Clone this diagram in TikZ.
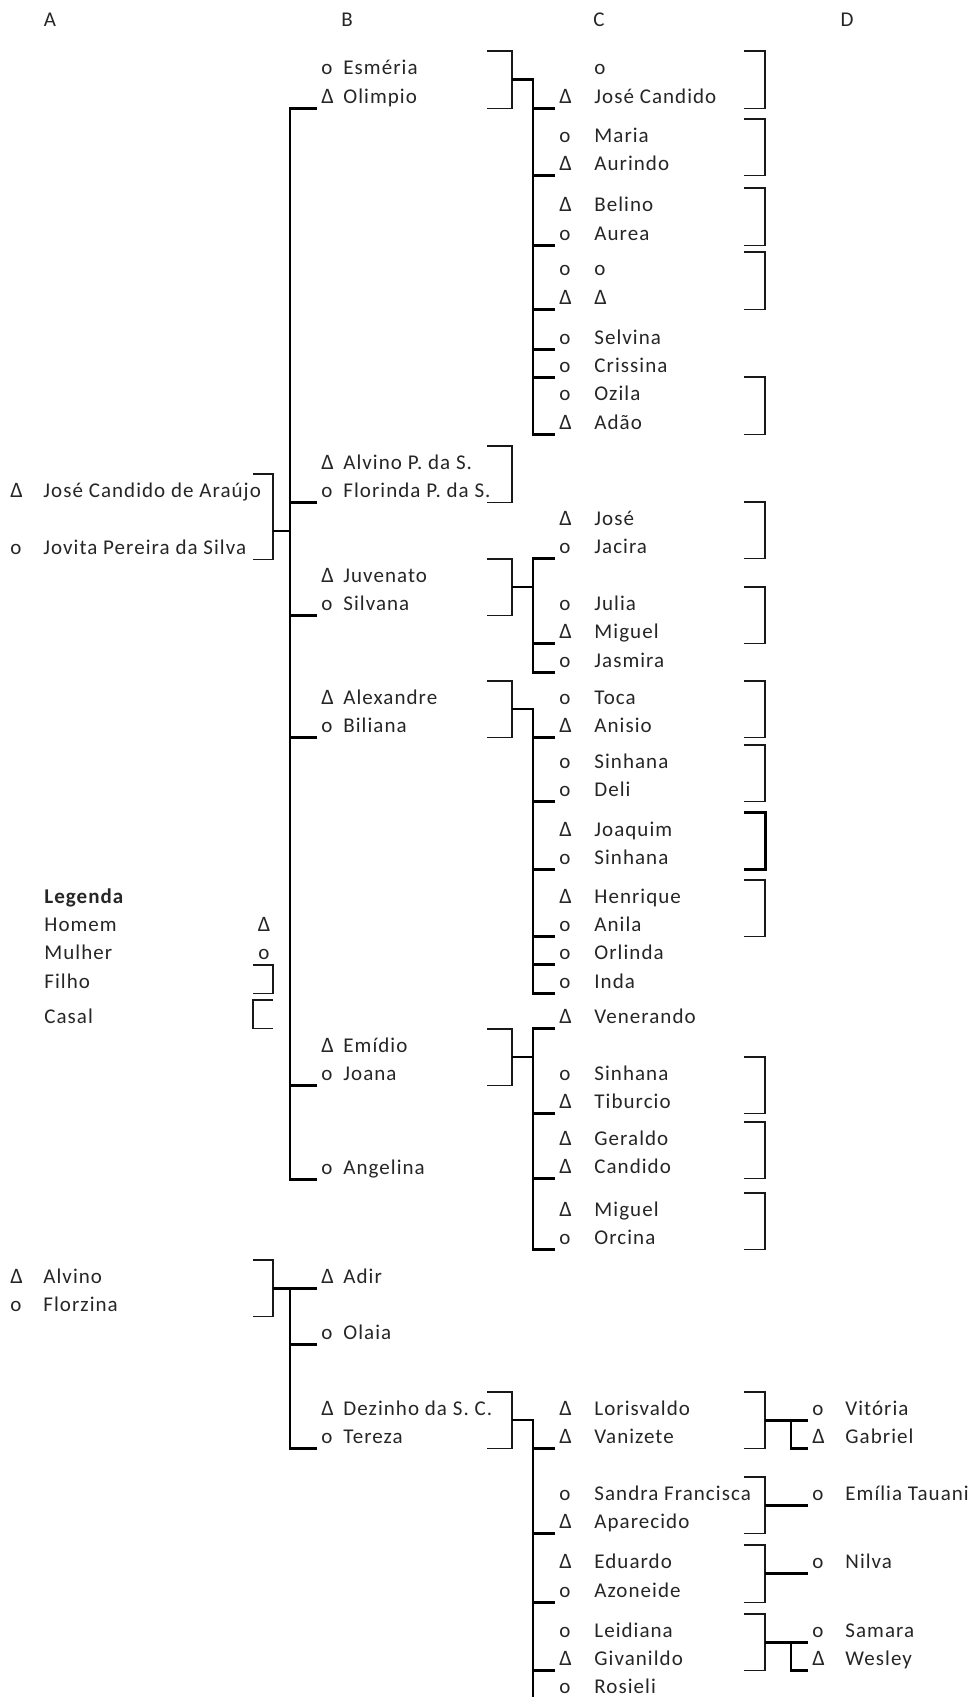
\documentclass[tikz,border=0pt]{standalone}
\usepackage{fontspec}
\setmainfont{Carlito}[LetterSpace=5.0]
\usepackage{tikz}
\usetikzlibrary{calc}
\newlength{\symw}
\newcommand{\Dlt}{\scalebox{1.05}{Δ}}
\newcommand{\Hom}{\makebox[\symw][l]{\Dlt}}
\newcommand{\Mul}{\makebox[\symw][l]{o}}
\newcommand{\Sem}{\makebox[\symw][l]{}}
\tikzset{
  pessoa/.style={anchor=base west, inner xsep=2pt, inner ysep=0pt,
    text height=11.5pt, text depth=2.5pt, text=black!85,
    font=\fontsize{10.5}{12}\selectfont},
  pesA/.style={pessoa, execute at begin node={\setlength{\symw}{16.5pt}}},
  pesB/.style={pessoa, execute at begin node={\setlength{\symw}{11pt}}},
  pesC/.style={pessoa, execute at begin node={\setlength{\symw}{17.5pt}}},
  pesD/.style={pessoa, execute at begin node={\setlength{\symw}{16.5pt}}},
  legbox/.style={pessoa, inner xsep=0pt},
  colhead/.style={anchor=base, inner sep=0pt, text=black!85,
    font=\fontsize{10.5}{12}\selectfont},
  linha/.style={line width=1.1pt, black},
  casal/.style={line width=0.9pt, black!90},
  casalgrosso/.style={line width=1.5pt, black},
}

\begin{document}
\begin{tikzpicture}[x=0.5pt, y=-0.5pt]
  \fill[white] (0,0) rectangle (974,1697);
  \useasboundingbox (0,0) rectangle (974,1697);

  % colunas das linhas
  \coordinate (xA1) at (253,0);
  \coordinate (xA2) at (273,0);
  \coordinate (xB0) at (290,0);
  \coordinate (xB1) at (487,0);
  \coordinate (xB2) at (512,0);
  \coordinate (xC0) at (533,0);
  \coordinate (xC1) at (744,0);
  \coordinate (xC2) at (765,0);
  \coordinate (xD0) at (791,0);

  % Cabecalho
  \node[colhead] (hA) at (50,26) {A};
  \node[colhead] (hB) at (347,26) {B};
  \node[colhead] (hC) at (599,26) {C};
  \node[colhead] (hD) at (847,26) {D};

  % Geracao A
  \node[pesA] (jca) at (6,497) {\Hom José Candido de Araújo};
  \node[pesA] (jovita) at (6,554) {\Mul Jovita Pereira da Silva};
  \node[pesA] (alvino) at (6,1283) {\Hom Alvino};
  \node[pesA] (florzina) at (6,1311) {\Mul Florzina};

  % Legenda
  \node[legbox, font={\fontsize{10.5}{12}\selectfont\bfseries}] (legenda) at (44,903) {Legenda};
  \node[legbox] (homem) at (44,931) {Homem};
  \node[legbox] (mulher) at (44,959) {Mulher};
  \node[legbox] (filho) at (44,988) {Filho};
  \node[legbox] (casalleg) at (44,1023) {Casal};
  \node[colhead] (symhom) at (264,931) {\Dlt};
  \node[colhead] (symmul) at (264,959) {o};

  % Geracao B
  \node[pesB] (esmeria) at (317,74) {\Mul Esméria};
  \node[pesB] (olimpio) at (317,103) {\Hom Olimpio};
  \node[pesB] (alvinops) at (317,469) {\Hom Alvino P. da S.};
  \node[pesB] (florinda) at (317,497) {\Mul Florinda P. da S.};
  \node[pesB] (juvenato) at (317,582) {\Hom Juvenato};
  \node[pesB] (silvana) at (317,610) {\Mul Silvana};
  \node[pesB] (alexandre) at (317,704) {\Hom Alexandre};
  \node[pesB] (biliana) at (317,732) {\Mul Biliana};
  \node[pesB] (emidio) at (317,1052) {\Hom Emídio};
  \node[pesB] (joana) at (317,1080) {\Mul Joana};
  \node[pesB] (angelina) at (317,1174) {\Mul Angelina};
  \node[pesB] (adir) at (317,1283) {\Hom Adir};
  \node[pesB] (olaia) at (317,1339) {\Mul Olaia};
  \node[pesB] (dezinho) at (317,1415) {\Hom Dezinho da S. C.};
  \node[pesB] (tereza) at (317,1443) {\Mul Tereza};

  % Geracao C: Olimpio
  \node[pesC] (c1a) at (555,74) {\Sem o};
  \node[pesC] (josecandido) at (555,103) {\Hom José Candido};
  \node[pesC] (maria) at (555,142) {\Mul Maria};
  \node[pesC] (aurindo) at (555,170) {\Hom Aurindo};
  \node[pesC] (belino) at (555,211) {\Hom Belino};
  \node[pesC] (aurea) at (555,240) {\Mul Aurea};
  \node[pesC] (sem1) at (555,275) {\Mul o};
  \node[pesC] (sem2) at (555,304) {\Hom\Dlt};
  \node[pesC] (selvina) at (555,344) {\Mul Selvina};
  \node[pesC] (crissina) at (555,372) {\Mul Crissina};
  \node[pesC] (ozila) at (555,400) {\Mul Ozila};
  \node[pesC] (adao) at (555,429) {\Hom Adão};
  % Geracao C: Juvenato
  \node[pesC] (jose) at (555,525) {\Hom José};
  \node[pesC] (jacira) at (555,553) {\Mul Jacira};
  \node[pesC] (julia) at (555,610) {\Mul Julia};
  \node[pesC] (miguel) at (555,638) {\Hom Miguel};
  \node[pesC] (jasmira) at (555,667) {\Mul Jasmira};
  % Geracao C: Alexandre
  \node[pesC] (toca) at (555,704) {\Mul Toca};
  \node[pesC] (anisio) at (555,732) {\Hom Anisio};
  \node[pesC] (sinhana) at (555,768) {\Mul Sinhana};
  \node[pesC] (deli) at (555,796) {\Mul Deli};
  \node[pesC] (joaquim) at (555,836) {\Hom Joaquim};
  \node[pesC] (sinhanab) at (555,864) {\Mul Sinhana};
  \node[pesC] (henrique) at (555,903) {\Hom Henrique};
  \node[pesC] (anila) at (555,931) {\Mul Anila};
  \node[pesC] (orlinda) at (555,959) {\Mul Orlinda};
  \node[pesC] (inda) at (555,988) {\Mul Inda};
  % Geracao C: Emidio
  \node[pesC] (venerando) at (555,1023) {\Hom Venerando};
  \node[pesC] (sinhanac) at (555,1080) {\Mul Sinhana};
  \node[pesC] (tiburcio) at (555,1108) {\Hom Tiburcio};
  \node[pesC] (geraldo) at (555,1145) {\Hom Geraldo};
  \node[pesC] (candido) at (555,1173) {\Hom Candido};
  \node[pesC] (miguelb) at (555,1216) {\Hom Miguel};
  \node[pesC] (orcina) at (555,1244) {\Mul Orcina};
  % Geracao C: Dezinho
  \node[pesC] (lorisvaldo) at (555,1415) {\Hom Lorisvaldo};
  \node[pesC] (vanizete) at (555,1443) {\Hom Vanizete};
  \node[pesC] (sandra) at (555,1500) {\Mul Sandra Francisca};
  \node[pesC] (aparecido) at (555,1528) {\Hom Aparecido};
  \node[pesC] (eduardo) at (555,1568) {\Hom Eduardo};
  \node[pesC] (azoneide) at (555,1597) {\Mul Azoneide};
  \node[pesC] (leidiana) at (555,1637) {\Mul Leidiana};
  \node[pesC] (givanildo) at (555,1665) {\Hom Givanildo};
  \node[pesC] (rosieli) at (555,1693) {\Mul Rosieli};

  % Geracao D
  \node[pesD] (vitoria) at (808,1415) {\Mul Vitória};
  \node[pesD] (gabriel) at (808,1443) {\Hom Gabriel};
  \node[pesD] (emilia) at (808,1500) {\Mul Emília Tauani};
  \node[pesD] (nilva) at (808,1568) {\Mul Nilva};
  \node[pesD] (samara) at (808,1637) {\Mul Samara};
  \node[pesD] (wesley) at (808,1665) {\Hom Wesley};

  % Legenda: simbolos
  \draw[casal] (filho.north -| xA1) -| (filho.south -| xA2) -- (filho.south -| xA1);
  \draw[casal] (casalleg.north -| xA2) -| (casalleg.south -| xA1) -- (casalleg.south -| xA2);

  % Jose Candido + Jovita
  \draw[casal] (jca.north -| xA1) -| (jovita.south -| xA2) -- (jovita.south -| xA1);
  \coordinate (mA) at ($(jca.north)!0.67!(jovita.south)$);
  \draw[linha] (mA -| xA2) -- (mA -| xB0);
  \draw[linha] (olimpio.south west) -| (angelina.south -| xB0) -- (angelina.south west);
  \draw[linha] (florinda.south west) -- (florinda.south -| xB0);
  \draw[linha] (silvana.south west) -- (silvana.south -| xB0);
  \draw[linha] (biliana.south west) -- (biliana.south -| xB0);
  \draw[linha] (joana.south west) -- (joana.south -| xB0);

  % Olimpio + Esmeria
  \draw[casal] (esmeria.north -| xB1) -| (olimpio.south -| xB2) -- (olimpio.south -| xB1);
  \coordinate (m1) at ($(esmeria.north)!0.5!(olimpio.south)$);
  \draw[linha] (m1 -| xB2) -| (adao.south -| xC0) -- (adao.south west);
  \draw[linha] (josecandido.south west) -- (josecandido.south -| xC0);
  \draw[linha] (aurindo.south west) -- (aurindo.south -| xC0);
  \draw[linha] (aurea.south west) -- (aurea.south -| xC0);
  \draw[linha] (sem2.south west) -- (sem2.south -| xC0);
  \draw[linha] (selvina.south west) -- (selvina.south -| xC0);
  \draw[linha] (crissina.south west) -- (crissina.south -| xC0);
  \draw[casal] (c1a.north -| xC1) -| (josecandido.south -| xC2) -- (josecandido.south -| xC1);
  \draw[casal] (maria.north -| xC1) -| (aurindo.south -| xC2) -- (aurindo.south -| xC1);
  \draw[casal] (belino.north -| xC1) -| (aurea.south -| xC2) -- (aurea.south -| xC1);
  \draw[casal] (sem1.north -| xC1) -| (sem2.south -| xC2) -- (sem2.south -| xC1);
  \draw[casal] (ozila.north -| xC1) -| (adao.south -| xC2) -- (adao.south -| xC1);

  % Alvino P. + Florinda
  \draw[casal] (alvinops.north -| xB1) -| (florinda.south -| xB2) -- (florinda.south -| xB1);

  % Juvenato + Silvana
  \draw[casal] (juvenato.north -| xB1) -| (silvana.south -| xB2) -- (silvana.south -| xB1);
  \coordinate (m3) at ($(juvenato.north)!0.5!(silvana.south)$);
  \draw[linha] (m3 -| xB2) -- (m3 -| xC0);
  \draw[linha] (jacira.south west) -| (jasmira.south -| xC0) -- (jasmira.south west);
  \draw[linha] (miguel.south west) -- (miguel.south -| xC0);
  \draw[casal] (jose.north -| xC1) -| (jacira.south -| xC2) -- (jacira.south -| xC1);
  \draw[casal] (julia.north -| xC1) -| (miguel.south -| xC2) -- (miguel.south -| xC1);

  % Alexandre + Biliana
  \draw[casal] (alexandre.north -| xB1) -| (biliana.south -| xB2) -- (biliana.south -| xB1);
  \coordinate (m4) at ($(alexandre.north)!0.5!(biliana.south)$);
  \draw[linha] (m4 -| xB2) -| (inda.south -| xC0) -- (inda.south west);
  \draw[linha] (anisio.south west) -- (anisio.south -| xC0);
  \draw[linha] (deli.south west) -- (deli.south -| xC0);
  \draw[casalgrosso] (sinhanab.south west) -- (sinhanab.south -| xC0);
  \draw[linha] (anila.south west) -- (anila.south -| xC0);
  \draw[linha] (orlinda.south west) -- (orlinda.south -| xC0);
  \draw[casal] (toca.north -| xC1) -| (anisio.south -| xC2) -- (anisio.south -| xC1);
  \draw[casal] (sinhana.north -| xC1) -| (deli.south -| xC2) -- (deli.south -| xC1);
  \draw[casalgrosso] (joaquim.north -| xC1) -| (sinhanab.south -| xC2) -- (sinhanab.south -| xC1);
  \draw[casal] (henrique.north -| xC1) -| (anila.south -| xC2) -- (anila.south -| xC1);

  % Emidio + Joana
  \draw[casal] (emidio.north -| xB1) -| (joana.south -| xB2) -- (joana.south -| xB1);
  \coordinate (m5) at ($(emidio.north)!0.5!(joana.south)$);
  \draw[linha] (m5 -| xB2) -- (m5 -| xC0);
  \draw[linha] (venerando.south west) -| (orcina.south -| xC0) -- (orcina.south west);
  \draw[linha] (tiburcio.south west) -- (tiburcio.south -| xC0);
  \draw[linha] (candido.south west) -- (candido.south -| xC0);
  \draw[casal] (sinhanac.north -| xC1) -| (tiburcio.south -| xC2) -- (tiburcio.south -| xC1);
  \draw[casal] (geraldo.north -| xC1) -| (candido.south -| xC2) -- (candido.south -| xC1);
  \draw[casal] (miguelb.north -| xC1) -| (orcina.south -| xC2) -- (orcina.south -| xC1);

  % Alvino + Florzina
  \draw[casal] (alvino.north -| xA1) -| (florzina.south -| xA2) -- (florzina.south -| xA1);
  \draw[linha] (adir.south -| xA2) -- (adir.south west);
  \draw[linha] (adir.south -| xB0) |- (tereza.south west);
  \draw[linha] (olaia.south west) -- (olaia.south -| xB0);

  % Dezinho + Tereza
  \draw[casal] (dezinho.north -| xB1) -| (tereza.south -| xB2) -- (tereza.south -| xB1);
  \coordinate (m7) at ($(dezinho.north)!0.5!(tereza.south)$);
  \draw[linha] (m7 -| xB2) -| (rosieli.south -| xC0);
  \draw[linha] (vanizete.south west) -- (vanizete.south -| xC0);
  \draw[linha] (aparecido.south west) -- (aparecido.south -| xC0);
  \draw[linha] (azoneide.south west) -- (azoneide.south -| xC0);
  \draw[linha] (givanildo.south west) -- (givanildo.south -| xC0);
  \draw[casal] (lorisvaldo.north -| xC1) -| (vanizete.south -| xC2) -- (vanizete.south -| xC1);
  \draw[casal] (sandra.north -| xC1) -| (aparecido.south -| xC2) -- (aparecido.south -| xC1);
  \draw[casal] (eduardo.north -| xC1) -| (azoneide.south -| xC2) -- (azoneide.south -| xC1);
  \draw[casal] (leidiana.north -| xC1) -| (givanildo.south -| xC2) -- (givanildo.south -| xC1);

  % Geracao D
  \draw[linha] (vitoria.south -| xC2) -- (vitoria.south west);
  \draw[linha] (vitoria.south -| xD0) |- (gabriel.south west);
  \draw[linha] (emilia.south -| xC2) -- (emilia.south west);
  \draw[linha] (nilva.south -| xC2) -- (nilva.south west);
  \draw[linha] (samara.south -| xC2) -- (samara.south west);
  \draw[linha] (samara.south -| xD0) |- (wesley.south west);
\end{tikzpicture}
\end{document}
